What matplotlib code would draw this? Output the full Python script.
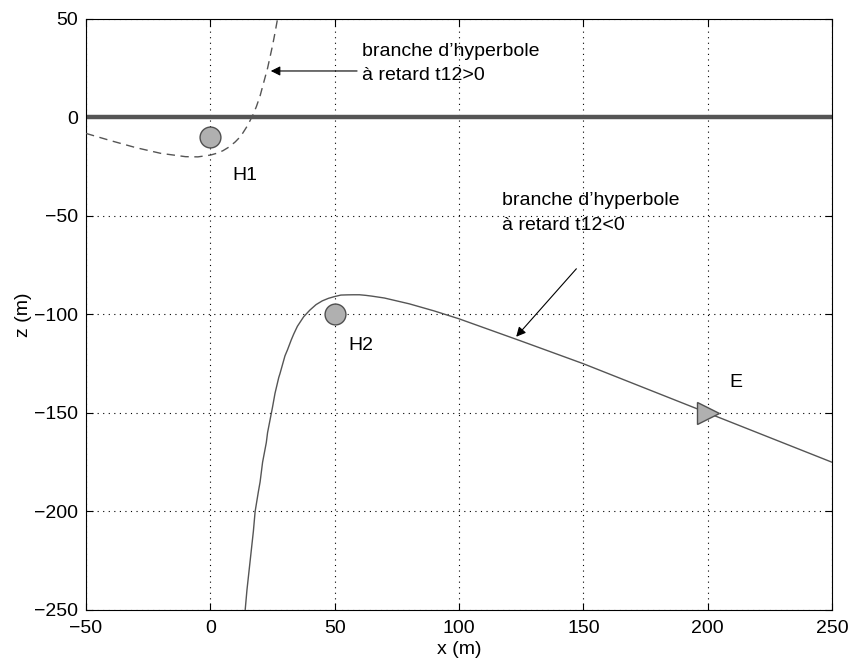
import matplotlib
matplotlib.use("Agg")
import matplotlib.pyplot as plt

plt.rcParams['font.family'] = ['Liberation Sans', 'DejaVu Sans']

# hydrophones and emitter
h_x = [0, 50]
h_z = [-10, -100]
h_names = ["H1", "H2"]
e_x = [200]
e_z = [-150]

# branch t12<0 (solid)
sol_x = [14, 14.7, 16, 17.3, 18, 19.3, 20, 21, 22.5, 23, 25, 26, 27.5, 28, 30,
         31, 32.5, 33.5, 35, 36.3, 37.5, 40, 42.5, 45, 47.5, 50, 52.5, 55,
         57.5, 60, 62.5, 65, 70, 80, 90, 100, 125, 150, 175, 200, 225, 250]
sol_z = [-250, -240, -225, -210, -200, -190, -185, -175, -165, -160, -147,
         -140, -132, -130, -121, -118, -113, -110, -106, -103.5, -101.2,
         -97.8, -95, -93.1, -91.8, -90.9, -90.15, -90.05, -90, -90, -90.3,
         -90.7, -91.65, -94.6, -98.2, -102.2, -113.5, -125, -137.5, -150,
         -162.5, -175]

# branch t12>0 (dashed)
dash_x = [-50, -40, -30, -20, -10, -5, 0, 2.5, 5, 7.5, 10, 11.5, 13, 15, 17,
          18.5, 20, 21.5, 23, 25, 26, 27]
dash_z = [-8.1, -11.8, -15.3, -18.2, -19.9, -20, -19.1, -18.2, -16.9, -15,
          -12.4, -10.45, -8, -4, 1, 5.5, 11, 18, 25, 36.5, 43, 50]

fig = plt.figure(figsize=(8.52, 6.61), dpi=100)
ax = fig.add_axes([0.101, 0.0772, 0.8755, 0.8941])

ax.axhline(0, color='#555555', lw=3.2, zorder=2)
ax.plot(sol_x, sol_z, color='#555555', lw=1.0, zorder=3)
ax.plot(dash_x, dash_z, color='#555555', lw=1.0, ls=(0, (6, 4)), zorder=3)

ax.plot(h_x, h_z, 'o', ms=15, mfc='#b0b0b0', mec='#505050', mew=1.0, zorder=4)
ax.plot(e_x, e_z, '>', ms=16, mfc='#b0b0b0', mec='#505050', mew=1.0, zorder=4)

fs = 14
ax.text(8.7, -31.7, h_names[0], fontsize=fs, va='baseline')
ax.text(55.5, -118, h_names[1], fontsize=fs, va='baseline')
ax.text(208.8, -137, "E", fontsize=fs, va='baseline')

ax.text(61, 31.2, "branche d\u2019hyperbole", fontsize=fs, va='baseline')
ax.text(61, 19.0, "à retard t12>0", fontsize=fs, va='baseline')
ax.annotate("", xy=(24.3, 23.6), xytext=(59, 23.6),
            arrowprops=dict(arrowstyle='-|>', color='black', lw=0.8,
                            mutation_scale=14, shrinkA=0, shrinkB=0))

ax.text(117.3, -44.4, "branche d\u2019hyperbole", fontsize=fs, va='baseline')
ax.text(117.3, -57.1, "à retard t12<0", fontsize=fs, va='baseline')
ax.annotate("", xy=(123, -111.3), xytext=(147.2, -76.8),
            arrowprops=dict(arrowstyle='-|>', color='black', lw=0.8,
                            mutation_scale=14, shrinkA=0, shrinkB=0))

ax.set_xlim(-50, 250)
ax.set_ylim(-250, 50)
ax.set_xticks(range(-50, 251, 50))
ax.set_yticks(range(-250, 51, 50))
ax.grid(True, color='black', ls=(0, (1, 4)), lw=0.8)
ax.tick_params(direction='in', top=True, right=True, length=5, labelsize=fs)
ax.tick_params(axis='x', pad=7)
ax.tick_params(axis='y', pad=6)
ax.set_xlabel("x (m)", fontsize=fs, labelpad=3)
ax.set_ylabel("z (m)", fontsize=fs, labelpad=1)

fig.savefig("out.png", dpi=100)
